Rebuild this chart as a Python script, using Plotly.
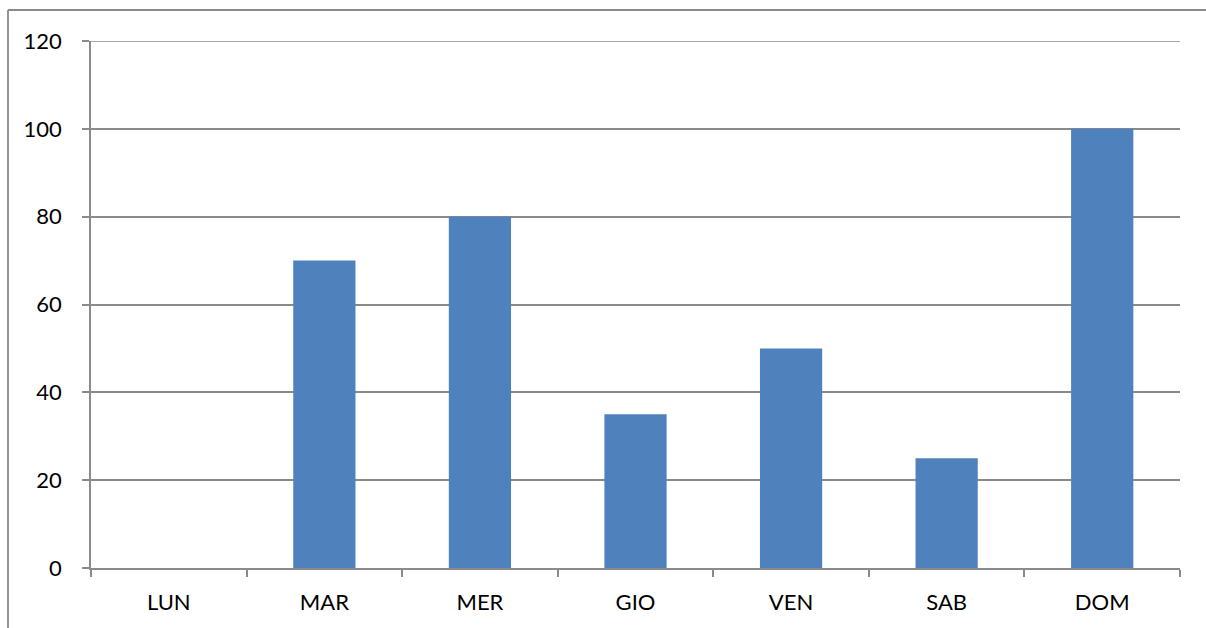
import plotly.graph_objects as go

# Daily values
giorni = ["LUN", "MAR", "MER", "GIO", "VEN", "SAB", "DOM"]
valori = [0, 70, 80, 35, 50, 25, 100]
y_ticks = [0, 20, 40, 60, 80, 100, 120]

W, H = 1206, 628
L, R, T, B = 91, 26, 41, 60
grigio = "#8a8a8a"

fig = go.Figure(
    go.Bar(
        x=giorni,
        y=valori,
        marker=dict(color="#4F81BD", line=dict(width=0)),
        width=0.4,
    )
)

fig.update_layout(
    width=W,
    height=H,
    margin=dict(l=L, r=R, t=T, b=B),
    paper_bgcolor="white",
    plot_bgcolor="white",
    font=dict(family="Lato, Open Sans, sans-serif", size=22, color="black"),
    showlegend=False,
    bargap=0.6,
)

fig.update_yaxes(
    range=[0, 120],
    tickvals=y_ticks,
    showgrid=True,
    gridcolor=grigio,
    gridwidth=1.5,
    showline=True,
    linecolor=grigio,
    linewidth=1.8,
    ticks="outside",
    ticklen=7,
    tickcolor=grigio,
    tickwidth=1.8,
    ticklabelstandoff=16,
    zeroline=False,
    fixedrange=True,
)

fig.update_xaxes(
    showline=True,
    linecolor=grigio,
    linewidth=1.8,
    ticks="outside",
    tickson="boundaries",
    ticklen=7,
    tickcolor=grigio,
    tickwidth=1.8,
    ticklabelstandoff=14,
    showgrid=False,
    fixedrange=True,
)

# Top gridline at the upper end of the value axis
fig.add_shape(type="line", xref="paper", yref="y",
              x0=0, x1=1, y0=120, y1=120,
              line=dict(color=grigio, width=1.5), layer="below")

# Outer chart frame (left and top edges visible)
pw = W - L - R
ph = H - T - B
def px_x(x):
    return (x - L) / pw
def px_y(y):
    return (H - B - y) / ph

fig.add_shape(type="line", xref="paper", yref="paper",
              x0=px_x(8), x1=px_x(8), y0=px_y(10), y1=px_y(H),
              line=dict(color=grigio, width=1.8))
fig.add_shape(type="line", xref="paper", yref="paper",
              x0=px_x(8), x1=px_x(W), y0=px_y(10), y1=px_y(10),
              line=dict(color=grigio, width=1.8))

fig.write_html("out.html")
